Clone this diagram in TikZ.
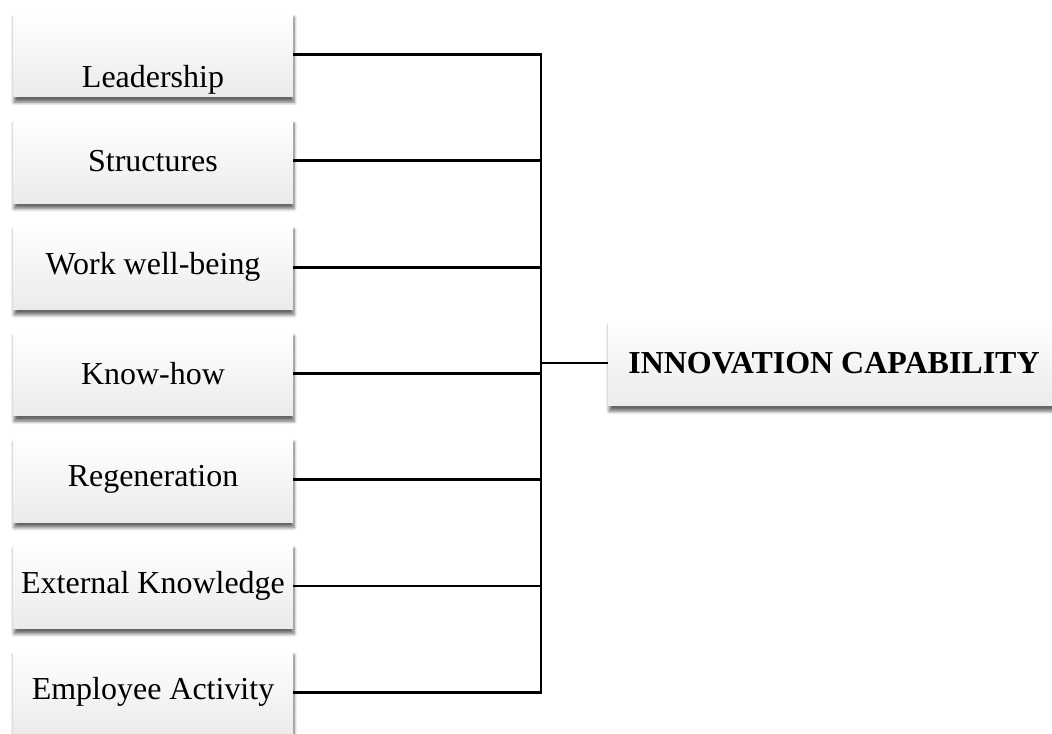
\documentclass[tikz,border=0pt]{standalone}
\usepackage{fontspec}
\setmainfont{Liberation Serif}
\usepackage{tikz}
\usetikzlibrary{shadows.blur}

\tikzset{
  factor/.style={rectangle, minimum width=5.6cm, minimum height=1.7cm, inner sep=0pt,
    top color=white, bottom color=gray!16, draw=none,
    blur shadow={shadow xshift=0.6pt, shadow yshift=-3pt, shadow blur steps=6, shadow opacity=60},
    font=\fontsize{18.2}{22}\selectfont},
  link/.style={line width=1.6pt, black}
}

\begin{document}
\begin{tikzpicture}[x=0.02cm, y=-0.02cm]
\useasboundingbox (0,0) rectangle (1052,734);
%%% Draws factor boxes
\node[factor] (lead) at (153,54.5){\raisebox{-0.66cm}[0pt][0pt]{Leadership}};
\node[factor] (struct) at (153,160.8){Structures};
\node[factor] (wellb) at (153,267.1){Work well-being};
\node[factor] (knowhow) at (153,373.4){Know-how};
\node[factor] (regen) at (153,479.7){Regeneration};
\node[factor] (extknow) at (153,586){External Knowledge};
\node[factor] (empact) at (153,692.3){Employee Activity};
%%% Draws result box
\node[factor, minimum width=9.04cm, minimum height=1.72cm] (innov) at (834,363){\textbf{INNOVATION CAPABILITY}};
% spine ends
\coordinate (top) at (541,54.5);
\coordinate (bot) at (541,692.3);
% draws connectors
\draw[link] (lead.east) -- (top) -- (bot) -- (empact.east);
\draw[link] (struct.east) -- (struct.east -| top);
\draw[link] (wellb.east) -- (wellb.east -| top);
\draw[link] (knowhow.east) -- (knowhow.east -| top);
\draw[link] (regen.east) -- (regen.east -| top);
\draw[link] (extknow.east) -- (extknow.east -| top);
\draw[link] (innov.west) -- (innov.west -| top);
\end{tikzpicture}
\end{document}
